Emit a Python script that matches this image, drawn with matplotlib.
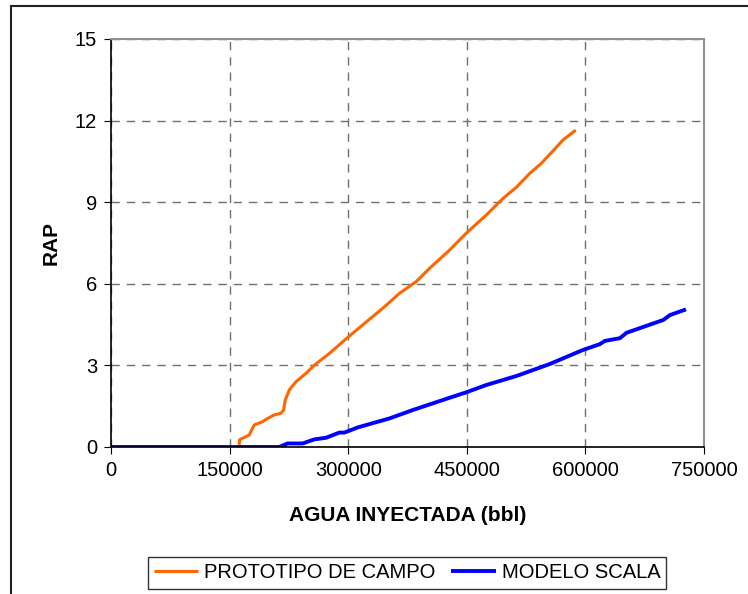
import matplotlib
matplotlib.use("Agg")
import matplotlib.pyplot as plt
from matplotlib.patches import Rectangle

plt.rcParams['font.family'] = ['Liberation Sans', 'DejaVu Sans']

# -------- DATA --------
campo_x = [162000, 162700, 174800, 181100, 191700, 198000, 206500, 215000,
           218300, 220400, 225500, 234000, 246600, 257200, 276200, 299400,
           318400, 343700, 364900, 386000, 402900, 428200, 449300, 474700,
           495800, 512700, 529600, 544400, 571800, 587800]
campo_y = [0.08, 0.27, 0.44, 0.81, 0.93, 1.05, 1.18, 1.24,
           1.36, 1.73, 2.10, 2.40, 2.71, 3.01, 3.44, 4.03,
           4.49, 5.10, 5.65, 6.08, 6.57, 7.24, 7.86, 8.53,
           9.14, 9.55, 10.06, 10.43, 11.29, 11.65]

scala_x = [0, 212800, 223400, 242400, 257200, 272000, 288900, 295200,
           312100, 352200, 381800, 428200, 449300, 474700, 512700, 554900,
           597100, 618200, 624600, 643600, 652100, 698500, 706900, 727200]
scala_y = [0.0, 0.0, 0.13, 0.13, 0.28, 0.34, 0.53, 0.53,
           0.72, 1.05, 1.36, 1.81, 2.01, 2.28, 2.61, 3.05,
           3.57, 3.78, 3.90, 4.00, 4.20, 4.67, 4.85, 5.06]

x_ticks = [0, 150000, 300000, 450000, 600000, 750000]
y_ticks = [0, 3, 6, 9, 12, 15]

# -------- FIGURE --------
fig = plt.figure(figsize=(7.48, 5.94), dpi=100)
W, H = 748, 594
ax = fig.add_axes([111 / W, 1 - 447 / H, (704 - 111) / W, (447 - 39) / H])

# outer chart border (Excel style, runs off the right and bottom)
fig.patches.append(Rectangle((11 / W, -0.1), 1.2, 1 - 6 / H + 0.1,
                             transform=fig.transFigure, fill=False,
                             edgecolor='#202020', linewidth=1.5))

ax.plot(campo_x, campo_y, color='#FF6600', linewidth=2.2,
        label='PROTOTIPO DE CAMPO', solid_capstyle='butt')
ax.plot(scala_x, scala_y, color='#0000FF', linewidth=2.8,
        label='MODELO SCALA', solid_capstyle='butt')

ax.set_xlim(0, 750000)
ax.set_ylim(0, 15)
ax.set_xticks(x_ticks)
ax.set_yticks(y_ticks)
ax.tick_params(labelsize=14.5, direction='out', length=5, pad=5)
ax.grid(True, color='#707070', linestyle=(0, (6, 5)), linewidth=1)

for side in ['left', 'bottom']:
    ax.spines[side].set_color('black')
    ax.spines[side].set_linewidth(1.2)
for side in ['top', 'right']:
    ax.spines[side].set_color('#909090')
    ax.spines[side].set_linewidth(1.5)

ax.set_xlabel('AGUA INYECTADA (bbl)', fontsize=15, fontweight='bold', labelpad=19)
ax.set_ylabel('RAP', fontsize=15, fontweight='bold', labelpad=10)

leg = fig.legend(loc='center', bbox_to_anchor=(407 / W, 1 - 573 / H), ncol=2,
                 fontsize=14.5, frameon=True, fancybox=False, edgecolor='black',
                 handlelength=2.2, handletextpad=0.3, columnspacing=0.8,
                 borderpad=0.3)
leg.get_frame().set_linewidth(1.0)

fig.savefig('out.png', dpi=100)
